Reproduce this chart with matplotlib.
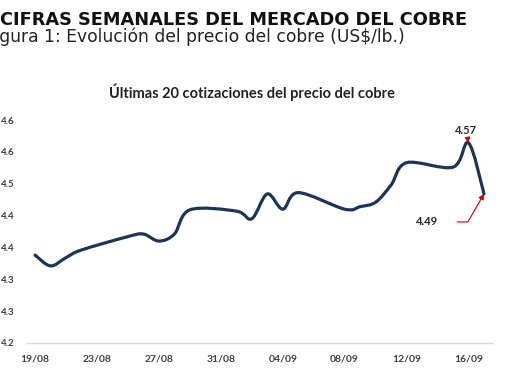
import matplotlib
matplotlib.use("Agg")
import matplotlib.pyplot as plt
import matplotlib.dates as mdates
from matplotlib.path import Path
from matplotlib.patches import PathPatch
import numpy as np
import datetime as dt

# ---- data ----
dates = ["2025-08-19", "2025-08-20", "2025-08-21", "2025-08-22", "2025-08-25",
         "2025-08-26", "2025-08-27", "2025-08-28", "2025-08-29", "2025-09-01",
         "2025-09-02", "2025-09-03", "2025-09-04", "2025-09-05", "2025-09-08",
         "2025-09-09", "2025-09-10", "2025-09-11", "2025-09-12", "2025-09-15",
         "2025-09-16", "2025-09-17"]
prices = [4.394, 4.377, 4.390, 4.402, 4.423,
          4.427, 4.416, 4.427, 4.465, 4.463,
          4.451, 4.490, 4.466, 4.492, 4.466,
          4.470, 4.477, 4.504, 4.539, 4.532,
          4.570, 4.490]
xtick_dates = ["2025-08-19", "2025-08-23", "2025-08-27", "2025-08-31",
               "2025-09-04", "2025-09-08", "2025-09-12", "2025-09-16"]
ytick_values = [4.256, 4.306, 4.356, 4.406, 4.456, 4.506, 4.556, 4.606]
ytick_labels = ["4.2", "4.3", "4.3", "4.4", "4.4", "4.5", "4.6", "4.6"]
max_label = "4.57"
last_label = "4.49"

title = "CIFRAS SEMANALES DEL MERCADO DEL COBRE"
subtitle = "Figura 1: Evolución del precio del cobre (US$/lb.)"
chart_title = "Últimas 20 cotizaciones del precio del cobre"

# ---- figure ----
W, H = 510, 382
fig = plt.figure(figsize=(W / 100, H / 100), dpi=100)
fig.patch.set_facecolor("white")

L, R, B, T = 27, 493, 343, 120
ax = fig.add_axes([L / W, (H - B) / H, (R - L) / W, (B - T) / H])

x = mdates.date2num([dt.datetime.strptime(d, "%Y-%m-%d") for d in dates])
y = np.array(prices)

# smoothed line (Catmull-Rom -> cubic Bezier) in data coordinates
pts = np.column_stack([x, y])
n = len(pts)
verts = [tuple(pts[0])]
codes = [Path.MOVETO]
for i in range(n - 1):
    p0 = pts[i - 1] if i > 0 else pts[i]
    p1 = pts[i]
    p2 = pts[i + 1]
    p3 = pts[i + 2] if i + 2 < n else pts[i + 1]
    c1 = p1 + (p2 - p0) / 6.0
    c2 = p2 - (p3 - p1) / 6.0
    verts += [tuple(c1), tuple(c2), tuple(p2)]
    codes += [Path.CURVE4] * 3
line_color = "#1c3553"
ax.add_patch(PathPatch(Path(verts, codes), facecolor="none", edgecolor=line_color,
                       lw=2.3, capstyle="round", joinstyle="round"))

ax.set_xlim(x[0] - 0.52, x[-1] + 0.58)
ax.set_ylim(ytick_values[0], ytick_values[-1])

xt = mdates.date2num([dt.datetime.strptime(d, "%Y-%m-%d") for d in xtick_dates])
ax.set_xticks(xt)
ax.set_xticklabels([dt.datetime.strptime(d, "%Y-%m-%d").strftime("%d/%m") for d in xtick_dates])
ax.set_yticks(ytick_values)
ax.set_yticklabels(ytick_labels)

for s in ["top", "right", "left"]:
    ax.spines[s].set_visible(False)
ax.spines["bottom"].set_color("#d9d9d9")
ax.spines["bottom"].set_linewidth(1.0)
ax.tick_params(axis="x", length=0, pad=8, labelsize=7.5, labelcolor="#404040")
ax.tick_params(axis="y", length=0, pad=9, labelsize=7, labelcolor="#404040")
for lab in ax.get_xticklabels() + ax.get_yticklabels():
    lab.set_fontweight("bold")
    lab.set_family("Lato")

# annotations
arrow_color = "#c00000"
imax = int(np.argmax(y))
ax.annotate(max_label, xy=(x[imax], y[imax]), xytext=(x[imax] - 0.15, y[imax] + 0.019),
            ha="center", va="center", fontsize=8, fontweight="bold", color="#262626",
            family="Lato",
            arrowprops=dict(arrowstyle="-|>", color=arrow_color, lw=0.8,
                            mutation_scale=8, shrinkA=5, shrinkB=0))
ax.annotate(last_label, xy=(x[-1], y[-1]), xytext=(x[-1] - 3.7, y[-1] - 0.044),
            ha="center", va="center", fontsize=8, fontweight="bold", color="#262626",
            family="Lato",
            arrowprops=dict(arrowstyle="-|>", color=arrow_color, lw=0.8,
                            mutation_scale=8, shrinkA=12, shrinkB=0,
                            connectionstyle="angle,angleA=0,angleB=60,rad=0"))

# texts
fig.text(467 / W, 1 - 25 / H, title, ha="right", va="baseline",
         fontsize=12.8, fontweight="bold", family="DejaVu Sans", color="#111111")
fig.text(405 / W, 1 - 42 / H, subtitle, ha="right", va="baseline",
         fontsize=12.3, family="DejaVu Sans", color="#222222")
fig.text(252 / W, 1 - 92 / H, chart_title, ha="center", va="center",
         fontsize=10.5, fontweight="bold", family="Lato", color="#222222")

fig.savefig("out.png", dpi=100, facecolor="white")
